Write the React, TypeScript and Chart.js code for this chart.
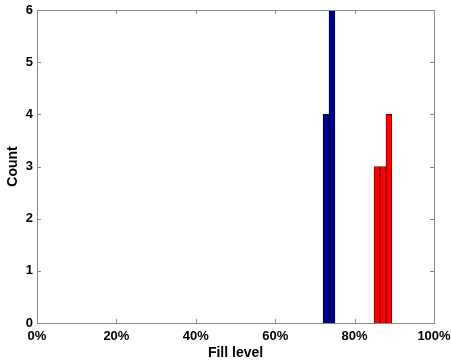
import React, { useEffect, useRef } from "react";
import { Chart, registerables } from "chart.js";

Chart.register(...registerables);

const blueBinCenters = [0.728, 0.743];
const blueCounts = [4, 6];
const redBinCenters = [0.8565, 0.8715, 0.8865];
const redCounts = [3, 3, 4];
const xTicks = [0, 0.2, 0.4, 0.6, 0.8, 1.0];
const yTicks = [0, 1, 2, 3, 4, 5, 6];

const FONT = "'Liberation Sans', Arial, Helvetica, sans-serif";

const framePlugin = {
  id: "frameTicks",
  afterDraw(chart: any) {
    const { ctx, chartArea } = chart;
    const { left, right, top, bottom } = chartArea;
    const xs = chart.scales.x;
    const ys = chart.scales.y;
    ctx.save();
    ctx.strokeStyle = "#8a8a8a";
    ctx.lineWidth = 1;
    ctx.beginPath();
    const L = 4;
    for (const v of xTicks) {
      const px = Math.round(xs.getPixelForValue(v)) + 0.5;
      ctx.moveTo(px, bottom);
      ctx.lineTo(px, bottom - L);
      ctx.moveTo(px, top);
      ctx.lineTo(px, top + L);
    }
    for (const v of yTicks) {
      const py = Math.round(ys.getPixelForValue(v)) + 0.5;
      ctx.moveTo(left, py);
      ctx.lineTo(left + L, py);
      ctx.moveTo(right, py);
      ctx.lineTo(right - L, py);
    }
    ctx.stroke();
    ctx.strokeRect(Math.round(left) + 0.5, Math.round(top) + 0.5, Math.round(right - left), Math.round(bottom - top));
    ctx.restore();
  },
};

export default function App() {
  const ref = useRef<HTMLCanvasElement | null>(null);
  useEffect(() => {
    document.body.style.margin = "0";
    const canvas = ref.current!;
    const chart = new Chart(canvas, {
      type: "bar",
      data: {
        datasets: [
          {
            label: "Blue",
            data: blueBinCenters.map((x, i) => ({ x, y: blueCounts[i] })),
            backgroundColor: "#000090",
            borderColor: "#00003a",
            borderWidth: 1,
            barPercentage: 1,
            categoryPercentage: 1,
            grouped: false,
          } as any,
          {
            label: "Red",
            data: redBinCenters.map((x, i) => ({ x, y: redCounts[i] })),
            backgroundColor: "#ff0000",
            borderColor: "#7a0000",
            borderWidth: 1,
            barPercentage: 1,
            categoryPercentage: 1,
            grouped: false,
          } as any,
        ],
      },
      options: {
        animation: false,
        responsive: false,
        layout: { padding: { top: 10, right: 0, left: 0, bottom: 0 } },
        plugins: { legend: { display: false }, tooltip: { enabled: false } },
        scales: {
          x: {
            type: "linear",
            min: 0,
            max: 1,
            offset: false,
            afterBuildTicks: (s: any) => {
              s.ticks = xTicks.map((v) => ({ value: v }));
            },
            afterFit: (s: any) => {
              s.height = 39;
              s.paddingRight = 17;
              s.paddingLeft = 0;
            },
            grid: { display: false, drawTicks: false },
            border: { display: false },
            ticks: {
              color: "#000",
              font: { family: FONT, size: 13, weight: "bold" },
              padding: 6,
              maxRotation: 0,
              autoSkip: false,
              callback: (v: any) => Math.round(Number(v) * 100) + "%",
            },
            title: {
              display: true,
              text: "Fill level",
              color: "#000",
              font: { family: FONT, size: 14, weight: "bold" },
              padding: { top: 0, bottom: 0 },
            },
          },
          y: {
            type: "linear",
            min: 0,
            max: 6,
            afterBuildTicks: (s: any) => {
              s.ticks = yTicks.map((v) => ({ value: v }));
            },
            afterFit: (s: any) => {
              s.width = 37;
              s.paddingTop = 0;
              s.paddingBottom = 0;
            },
            grid: { display: false, drawTicks: false },
            border: { display: false },
            ticks: {
              color: "#000",
              font: { family: FONT, size: 13, weight: "bold" },
              padding: 4,
            },
            title: {
              display: true,
              text: "Count",
              color: "#000",
              font: { family: FONT, size: 14, weight: "bold" },
              padding: { top: 5, bottom: 0 },
            },
          },
        },
      },
      plugins: [framePlugin],
    });
    return () => chart.destroy();
  }, []);
  return (
    <div style={{ width: 451, height: 362 }}>
      <canvas ref={ref} width={451} height={362} style={{ display: "block" }} />
    </div>
  );
}
